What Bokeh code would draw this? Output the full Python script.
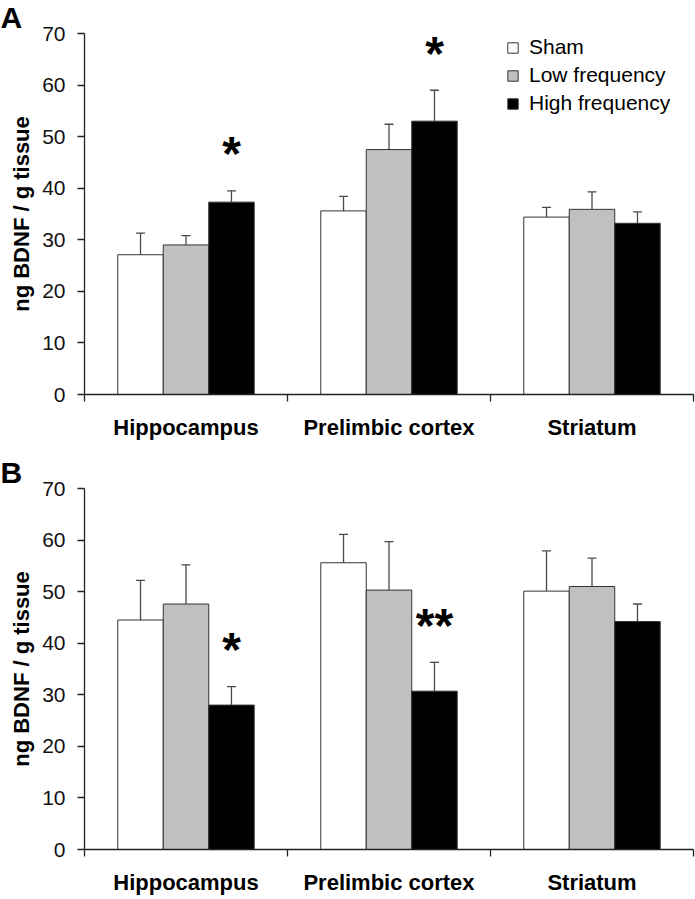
from bokeh.plotting import figure
from bokeh.models import (Range1d, FixedTicker, Whisker, TeeHead, ColumnDataSource,
                          Label, Legend, LegendItem)
from bokeh.layouts import column
from bokeh.embed import file_html
from bokeh.resources import INLINE
from bokeh.core.properties import value

# ---------------- data ----------------
regions = ["Hippocampus", "Prelimbic cortex", "Striatum"]
groups = ["Sham", "Low frequency", "High frequency"]
y_ticks = [0, 10, 20, 30, 40, 50, 60, 70]

# Panel A
a_sham = [27.1, 35.6, 34.4]
a_sham_err = [4.2, 2.8, 1.9]
a_low = [29.0, 47.5, 35.9]
a_low_err = [1.8, 4.9, 3.4]
a_high = [37.3, 53.0, 33.2]
a_high_err = [2.2, 6.0, 2.2]
a_sig = ["*", "*", ""]

# Panel B
b_sham = [44.5, 55.6, 50.1]
b_sham_err = [7.7, 5.5, 7.8]
b_low = [47.6, 50.3, 51.0]
b_low_err = [7.6, 9.4, 5.5]
b_high = [28.0, 30.7, 44.2]
b_high_err = [3.6, 5.6, 3.4]
b_sig = ["*", "**", ""]

# ---------------- style ----------------
FONT = "Liberation Sans"
COLORS = ["white", "#c0c0c0", "black"]
BAR_W = 0.224
EDGE = "#333333"
ERR = "#4a4a4a"


def make_panel(letter, series, errs, sig, height, top, bottom, show_legend):
    p = figure(width=695, height=height, x_range=Range1d(0, 3), y_range=Range1d(0, 70),
               output_backend="svg", toolbar_location=None,
               min_border_left=84, min_border_right=2,
               min_border_top=top, min_border_bottom=bottom)
    p.outline_line_color = None
    p.xgrid.visible = False
    p.ygrid.visible = False
    p.background_fill_color = "white"
    p.border_fill_color = "white"

    renderers = []
    for j, (vals, er) in enumerate(zip(series, errs)):
        xs = [i + 0.5 + (j - 1) * BAR_W for i in range(len(regions))]
        src = ColumnDataSource(dict(x=xs, top=vals,
                                    upper=[v + e for v, e in zip(vals, er)]))
        r = p.vbar(x="x", top="top", width=BAR_W, source=src,
                   fill_color=COLORS[j], line_color=EDGE, line_width=1)
        renderers.append(r)
        w = Whisker(source=src, base="x", lower="top", upper="upper",
                    dimension="height", line_color=ERR, line_width=1.3,
                    upper_head=TeeHead(size=9, line_color=ERR, line_width=1.3),
                    lower_head=None)
        p.add_layout(w)

    # significance marks above the high-frequency bars
    xs_high = [i + 0.5 + BAR_W for i in range(len(regions))]
    tops_high = [v + e for v, e in zip(series[2], errs[2])]
    p.text(x=xs_high, y=tops_high, text=sig, text_align="center",
           text_baseline="alphabetic", y_offset=-37,
           text_font=value(FONT), text_font_style="bold",
           text_font_size="48px", text_color="black")

    # y axis
    p.yaxis.ticker = FixedTicker(ticks=y_ticks)
    p.yaxis.axis_label = "ng BDNF / g tissue"
    p.yaxis.axis_label_text_font = FONT
    p.yaxis.axis_label_text_font_style = "bold"
    p.yaxis.axis_label_text_font_size = "22px"
    p.yaxis.axis_label_text_color = "black"
    p.yaxis.axis_label_standoff = 5
    p.yaxis.major_label_text_font = FONT
    p.yaxis.major_label_text_font_size = "21px"
    p.yaxis.major_label_text_color = "#111111"
    p.yaxis.major_label_standoff = 12
    p.yaxis.major_tick_out = 7
    p.yaxis.major_tick_in = 0
    p.yaxis.minor_tick_line_color = None
    p.yaxis.axis_line_color = "#222222"
    p.yaxis.axis_line_width = 1.3
    p.yaxis.major_tick_line_color = "#222222"
    p.yaxis.major_tick_line_width = 1.3

    # x axis: labels at category centres, ticks at category borders
    p.xaxis.ticker = FixedTicker(ticks=[i + 0.5 for i in range(len(regions))],
                                 minor_ticks=[i for i in range(len(regions) + 1)])
    p.xaxis.major_label_overrides = {i + 0.5: r for i, r in enumerate(regions)}
    p.xaxis.major_tick_line_color = None
    p.xaxis.major_tick_out = 0
    p.xaxis.major_tick_in = 0
    p.xaxis.minor_tick_out = 7
    p.xaxis.minor_tick_in = 0
    p.xaxis.minor_tick_line_color = "#222222"
    p.xaxis.minor_tick_line_width = 1.3
    p.xaxis.axis_line_color = "#222222"
    p.xaxis.axis_line_width = 1.3
    p.xaxis.major_label_text_font = FONT
    p.xaxis.major_label_text_font_style = "bold"
    p.xaxis.major_label_text_font_size = "22px"
    p.xaxis.major_label_text_color = "black"
    p.xaxis.major_label_standoff = 13

    # panel letter, placed in the side panel above the frame (not clipped)
    p.add_layout(Label(x=-84, y=0, x_units="screen", y_units="screen",
                       text=letter, text_font=FONT, text_font_style="bold",
                       text_font_size="30px", text_color="black",
                       text_align="left", text_baseline="bottom"), "above")

    if show_legend:
        legend = Legend(items=[LegendItem(label=g, renderers=[r])
                               for g, r in zip(groups, renderers)],
                        location=(422, 279), orientation="vertical",
                        border_line_color=None, background_fill_alpha=0,
                        padding=0, margin=0, spacing=4,
                        glyph_width=13, glyph_height=13, label_height=24,
                        label_standoff=10, label_text_font=FONT,
                        label_text_font_size="21px", label_text_color="black",
                        label_text_baseline="middle")
        p.add_layout(legend)
    return p


pA = make_panel("A", [a_sham, a_low, a_high], [a_sham_err, a_low_err, a_high_err],
                a_sig, height=450, top=33, bottom=56, show_legend=True)
pB = make_panel("B", [b_sham, b_low, b_high], [b_sham_err, b_low_err, b_high_err],
                b_sig, height=449, top=38, bottom=50, show_legend=False)

layout = column(pA, pB, spacing=0)
open("out.html", "w").write(file_html(layout, INLINE))
